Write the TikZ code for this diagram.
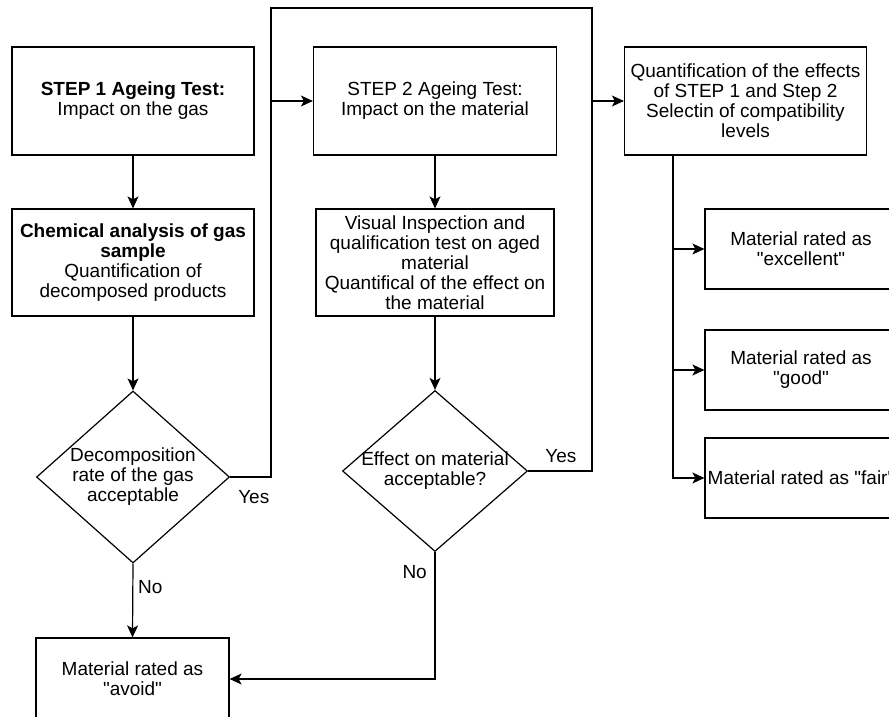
\documentclass[tikz,border=0pt]{standalone}
\usepackage{fontspec}
\setmainfont{Liberation Sans}
\usetikzlibrary{arrows.meta,positioning,shapes.geometric}
\tikzset{
  >={Stealth[length=12pt,width=11pt,inset=3pt]},
  line/.style={line width=1.2pt},
  box/.style={draw,line width=1.2pt,rectangle,align=center,inner sep=0pt},
  decision/.style={draw,line width=1.2pt,diamond,inner sep=0pt},
  note/.style={inner sep=0pt}
}
\newcommand{\qt}[1]{\textquotedbl#1\textquotedbl}

\begin{document}
\begin{tikzpicture}[x=1pt,y=-1pt,font=\fontsize{19}{20}\selectfont]
  \useasboundingbox (0,0) rectangle (889,717);
  \clip (0,0) rectangle (889,717);

  % Step 1 column
  \node[box,minimum width=242pt,minimum height=108pt] (step1) at (133,101)
    {\textbf{STEP 1 Ageing Test:}\\Impact on the gas};
  \node[box,minimum width=242pt,minimum height=107pt] (chem) at (133,262.5)
    {\textbf{Chemical analysis of gas}\\\textbf{sample}\\Quantification of\\decomposed products};
  \node[decision,minimum width=193pt,minimum height=172pt,
    label={[align=center]center:Decomposition\\rate of the gas\\acceptable}] (gasok) at (133,477) {};
  \node[box,minimum width=193pt,minimum height=82pt] (avoid) at (132.5,679)
    {Material rated as\\\qt{avoid}};

  % Step 2 column
  \node[box,minimum width=243pt,minimum height=108pt] (step2) at (435,101)
    {STEP 2 Ageing Test:\\Impact on the material};
  \node[box,minimum width=238pt,minimum height=107pt] (visual) at (435,262.5)
    {Visual Inspection and\\qualification test on aged\\material\\Quantifical of the effect on\\the material};
  \node[decision,minimum width=185pt,minimum height=161pt,
    label={[align=center]center:Effect on material\\acceptable?}] (matok) at (435,471) {};

  % Compatibility levels
  \node[box,minimum width=242pt,minimum height=108pt] (quant) at (745.5,101)
    {Quantification of the effects\\of STEP 1 and Step 2\\Selectin of compatibility\\levels};
  \node[box,minimum width=192pt,minimum height=80pt] (excellent) at (801,249)
    {Material rated as\\\qt{excellent}};
  \node[box,minimum width=192pt,minimum height=80pt] (good) at (801,370)
    {Material rated as\\\qt{good}};
  \node[box,minimum width=192pt,minimum height=80pt] (fair) at (801,478)
    {Material rated as \qt{fair}};

  % Turning points
  \coordinate (up1) at (271,101);
  \coordinate (up2) at (592,101);
  \coordinate (ceil1) at (271,8);
  \coordinate (trunk) at (673,155);

  % Connectors
  \draw[line,->] (step1) -- (chem);
  \draw[line,->] (chem) -- (gasok);
  \draw[line,->] (gasok.east) -| (up1) -- (step2.west);
  \draw[line] (up1) -- (ceil1) -| (up2);
  \draw[line,->] (step2) -- (visual);
  \draw[line,->] (visual) -- (matok);
  \draw[line,->] (matok.east) -| (up2) -- (quant.west);
  \draw[line,->] (gasok.south) -- (avoid.north);
  \draw[line,->] (matok.south) |- (avoid.east);
  \foreach \lvl in {excellent,good,fair}
    \draw[line,->] (trunk) |- (\lvl.west);

  % Branch labels
  \node[note,below right=13pt and 8pt of gasok.east] {Yes};
  \node[note,above right=8pt and 17pt of matok.east] {Yes};
  \node[note,below right=17pt and 5pt of gasok.south] {No};
  \node[note,below left=13pt and 8pt of matok.south] {No};
\end{tikzpicture}
\end{document}
